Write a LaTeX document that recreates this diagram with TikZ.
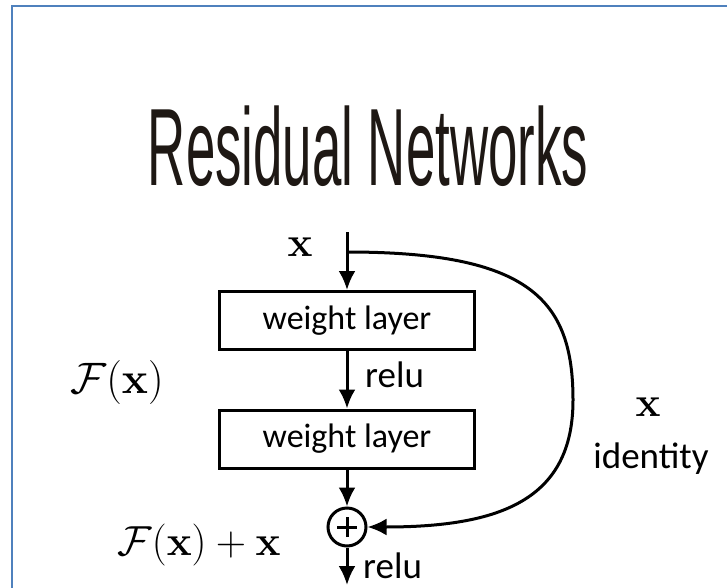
\documentclass[tikz,border=0pt]{standalone}
\usepackage{fix-cm}
\usepackage{amsmath,amssymb}
\usepackage[no-math]{fontspec}
\setmainfont{Carlito}
\newfontfamily\titlefont{Liberation Sans}
\usetikzlibrary{positioning,arrows.meta}
\definecolor{frameblue}{RGB}{79,129,189}
\definecolor{titleink}{RGB}{30,24,20}

\begin{document}
\begin{tikzpicture}[x = 1pt, y = -1pt,
    layer/.style = { draw, line width = 3pt, minimum width = 255pt, minimum height = 58pt,
                     font = \fontsize{34}{40}\selectfont },
    sum/.style = { draw, circle, line width = 3pt, minimum size = 38pt, inner sep = 0pt },
    flow/.style = { line width = 3pt, -{Latex[length = 19pt, width = 17pt]} },
    lbl/.style = { inner sep = 0pt, font = \fontsize{37}{44}\selectfont },
    mth/.style = { inner sep = 0pt, font = \fontsize{42}{50}\selectfont }
  ]
  \useasboundingbox (0,0) rectangle (727,588);
  \draw [frameblue, line width = 2pt] (727,6.5) -- (12,6.5) -- (12,588);

  \node [anchor = base, xscale = 0.48, text = titleink,
         font = \titlefont\fontsize{110}{120}\selectfont] (title) at (368,185) {Residual Networks};

  % block
  \node [layer] (w1) at (347,320.5) {weight layer};
  \node [layer] (w2) at (347,439) {weight layer};
  \node [sum] (add) at (347,527) {};
  \draw [line width = 3pt] ([xshift = -10pt]add.center) -- ([xshift = 10pt]add.center)
                           ([yshift = -10pt]add.center) -- ([yshift = 10pt]add.center);

  \coordinate (in) at (347,232);
  \coordinate (split) at (347,252);
  \coordinate (out) at (347,585);

  \draw [flow] (in) -- (w1);
  \draw [flow] (w1) -- (w2);
  \draw [flow] (w2) -- (add);
  \draw [flow] (add) -- (out);
  \draw [flow] (split) .. controls (530,252) and (573,300) .. (573,400)
                       .. controls (573,500) and (500,527) .. (add.east);

  % labels
  \node [mth] (xin) at (300,247) {$\mathbf{x}$};
  \node [lbl, anchor = base west] (relua) at (365,387) {relu};
  \node [mth, font = \fontsize{44}{52}\selectfont] (fx) at (117,382) {$\mathcal{F}(\mathbf{x})$};
  \node [mth] (xid) at (648,407) {$\mathbf{x}$};
  \node [lbl, anchor = base] (ident) at (651,468) {identity};
  \node [mth] (fxx) at (199,545) {$\mathcal{F}(\mathbf{x}) + \mathbf{x}$};
  \node [lbl, anchor = base west] (relub) at (363,578) {relu};
\end{tikzpicture}
\end{document}
